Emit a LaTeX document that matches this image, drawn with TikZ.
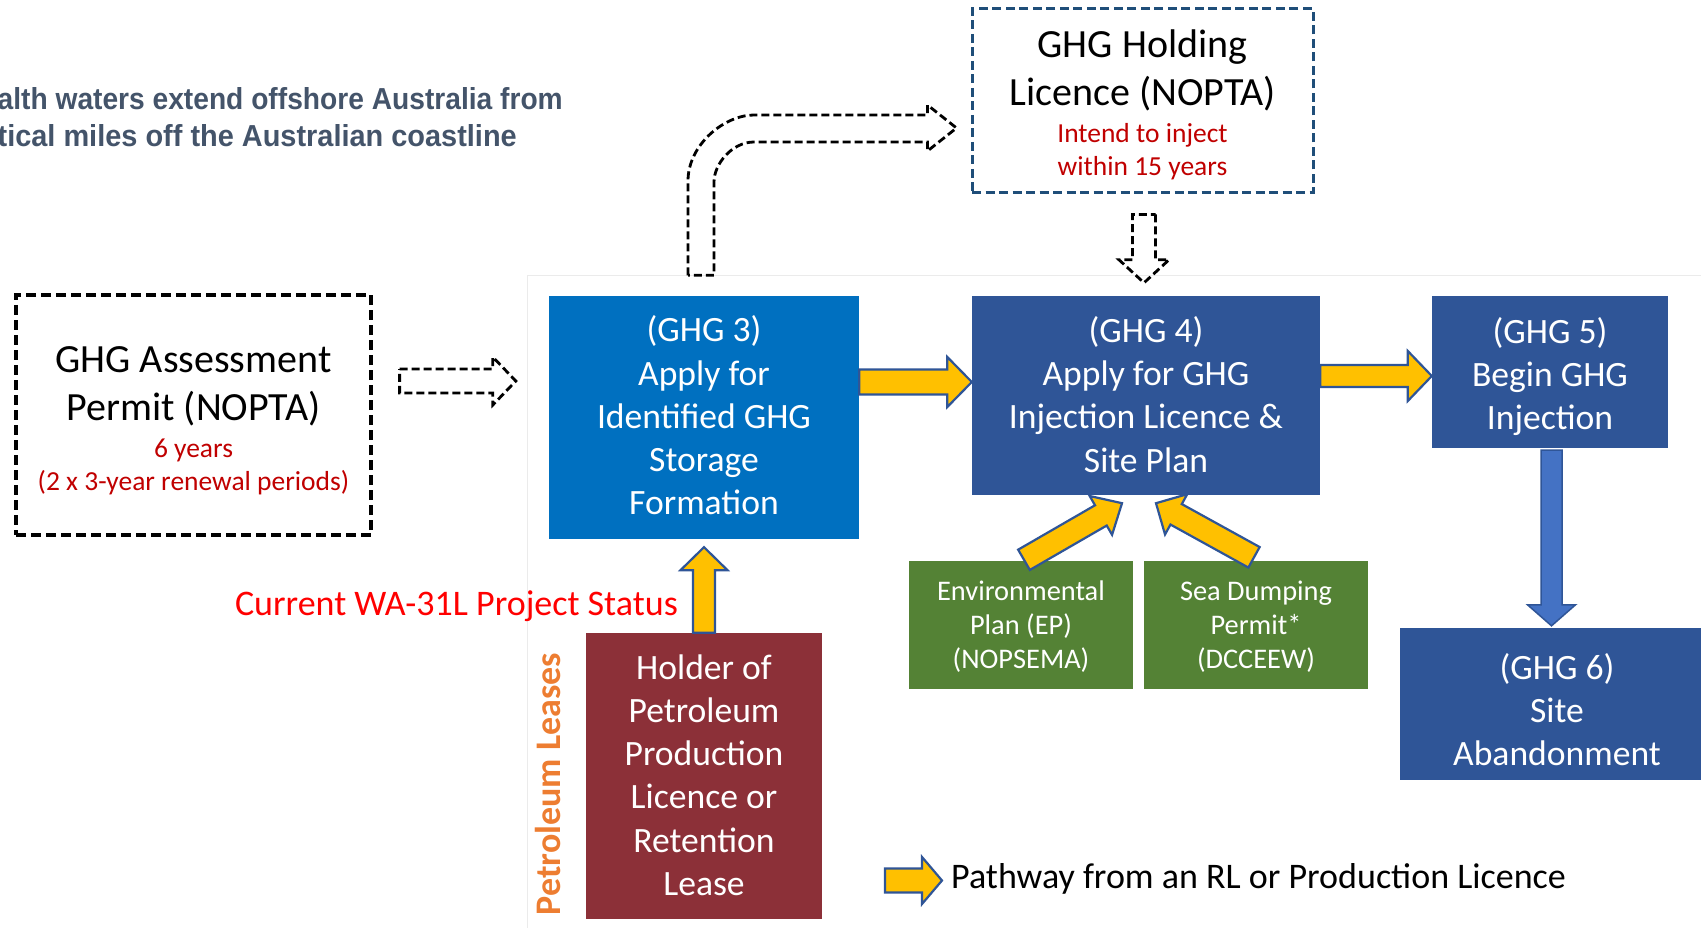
\documentclass[tikz,border=0pt]{standalone}
\usepackage{fontspec}
\usepackage{graphicx}
\setmainfont{Carlito}
\newfontfamily\headfont{Liberation Sans}
\usetikzlibrary{calc}

\definecolor{slatetext}{HTML}{44546A}
\definecolor{ghgblue}{HTML}{0070C0}
\definecolor{ghgnavy}{HTML}{2F5597}
\definecolor{envgreen}{HTML}{548235}
\definecolor{leasered}{HTML}{8C3038}
\definecolor{arrowyellow}{HTML}{FFC000}
\definecolor{arrowblue}{HTML}{4472C4}
\definecolor{arrowedge}{HTML}{2F5597}
\definecolor{notered}{HTML}{C00000}
\definecolor{statusred}{HTML}{FF0000}
\definecolor{leaseorange}{HTML}{ED7D31}
\definecolor{holdedge}{HTML}{1F4E79}
\definecolor{framegray}{HTML}{EBEBEB}

% block arrow: style, tail, tip, shaft half width, head half width, head length
\newcommand{\fatarrow}[6]{%
  \path ($(#3)!#6!(#2)$) coordinate (faBase);
  \draw[#1] ($(#2)!#4!90:(#3)$) -- ($(faBase)!#4!90:(#3)$) -- ($(faBase)!#5!90:(#3)$)
    -- (#3) -- ($(faBase)!#5!-90:(#3)$) -- ($(faBase)!#4!-90:(#3)$)
    -- ($(#2)!#4!-90:(#3)$) -- cycle;
}

\begin{document}
\begin{tikzpicture}[x=1pt,y=-1pt,
  stagebox/.style={inner sep=0pt},
  stagetext/.style={inner sep=0pt, align=center, text=white,
    font=\fontsize{35.6}{43.2}\selectfont},
  permitbox/.style={inner sep=0pt, fill=envgreen,
    minimum width=224pt, minimum height=128pt},
  permittext/.style={inner sep=0pt, align=center, text=white,
    font=\fontsize{28.4}{34.3}\selectfont},
  assessbox/.style={draw=black, line width=3.2pt, dash pattern=on 10pt off 5pt,
    inner sep=0pt, minimum width=355pt, minimum height=240pt},
  holdbox/.style={draw=holdedge, line width=3pt, dash pattern=on 9pt off 4.5pt,
    inner sep=0pt, minimum width=341pt, minimum height=184pt},
  titletext/.style={align=center, inner sep=0pt, font=\fontsize{40}{48}\selectfont},
  notetext/.style={align=center, inner sep=0pt, text=notered,
    font=\fontsize{27.5}{33}\selectfont},
  pathway/.style={fill=arrowyellow, draw=arrowedge, line width=2.2pt, line join=miter},
  descend/.style={fill=arrowblue, draw=arrowedge, line width=1.5pt, line join=miter},
  hollow/.style={draw=black, line width=2.8pt, dash pattern=on 8pt off 4pt, line join=miter},
  frameline/.style={draw=framegray, line width=1.2pt}
]
\useasboundingbox (0,0) rectangle (1701,928);
\clip (0,0) rectangle (1701,928);

% heading lines
\node[anchor=base east, inner sep=0pt, text=slatetext] (head1) at (563,110)
  {\resizebox{565pt}{22pt}{\headfont\bfseries alth waters extend offshore Australia from}};
\node[anchor=base east, inner sep=0pt, text=slatetext] (head2) at (517,147)
  {\resizebox{519pt}{22pt}{\headfont\bfseries tical miles off the Australian coastline}};

% light frame
\draw[frameline] (527.5,928) -- (527.5,275.5) -- (1701,275.5);

% permits and licences
\node[assessbox] (assess) at (193.5,415) {};
\node[titletext] (assesst) at ($(assess.center)+(0,-29)$) {GHG Assessment\\Permit (NOPTA)};
\node[notetext] (assessn) at ($(assess.center)+(0,51.5)$) {6 years\\(2 x 3-year renewal periods)};

\node[holdbox] (hold) at (1142.5,101) {};
\node[titletext] (holdt) at ($(hold.center)+(0,-31)$) {GHG Holding\\Licence (NOPTA)};
\node[notetext] (holdn) at ($(hold.center)+(0,50.5)$) {Intend to inject\\within 15 years};

% stages
\node[stagebox, fill=ghgblue, minimum width=310pt, minimum height=243pt] (ghg3) at (704,417.5) {};
\node[stagetext] (ghg3t) at ($(ghg3.center)+(0,-2)$)
  {(GHG 3)\\Apply for\\Identified GHG\\Storage\\Formation};
\node[stagebox, fill=ghgnavy, minimum width=348pt, minimum height=199pt] (ghg4) at (1146,395.5) {};
\node[stagetext] (ghg4t) at ($(ghg4.center)+(0,-1)$)
  {(GHG 4)\\Apply for GHG\\Injection Licence \&\\Site Plan};
\node[stagebox, fill=ghgnavy, minimum width=236pt, minimum height=152pt] (ghg5) at (1550,372) {};
\node[stagetext] (ghg5t) at ($(ghg5.center)+(0,4.5)$)
  {(GHG 5)\\Begin GHG\\Injection};
\node[stagebox, fill=ghgnavy, minimum width=314pt, minimum height=152pt] (ghg6) at (1557,704) {};
\node[stagetext] (ghg6t) at ($(ghg6.center)+(0,5.5)$)
  {(GHG 6)\\Site\\Abandonment};
\node[stagebox, fill=leasered, minimum width=236pt, minimum height=286pt] (lease) at (704,776) {};
\node[stagetext] (leaset) at ($(lease.center)+(0,-1)$)
  {Holder of\\Petroleum\\Production\\Licence or\\Retention\\Lease};
\node[permitbox] (env) at (1021,625) {};
\node[permittext] (envt) at ($(env.center)+(0,1.5)$) {Environmental\\Plan (EP)\\(NOPSEMA)};
\node[permitbox] (sea) at (1256,625) {};
\node[permittext] (seat) at ($(sea.center)+(0,1.5)$) {Sea Dumping\\Permit*\\(DCCEEW)};

% side labels
\node[anchor=base east, inner sep=0pt, text=statusred, font=\fontsize{36}{43}\selectfont]
  (status) at (678,615) {Current WA-31L Project Status};
\node[rotate=90, anchor=base, inner sep=0pt, text=leaseorange,
  font=\bfseries\fontsize{36}{43}\selectfont] (petro) at (560,784) {Petroleum Leases};

% optional routes (dashed)
\coordinate (d1s) at ($(assess.east)+(27,-34)$);
\coordinate (d1e) at ($(ghg3.west)+(-33,-36.5)$);
\fatarrow{hollow}{d1s}{d1e}{12pt}{24pt}{23pt}

\coordinate (b0) at ($(ghg3.north)+(-3,-20.5)$);
\coordinate (b1) at ($(hold.west)+(-14,27)$);
\draw[hollow] ($(b0)+(-13,0)$) -- ($(b0|-b1)+(-13,53)$)
  .. controls ($(b0|-b1)+(-13,16.5)$) and ($(b0|-b1)+(23.5,-13)$) .. ($(b0|-b1)+(53,-13)$)
  -- ($(b1)+(-29,-13)$) -- ($(b1)+(-29,-23)$) -- (b1) -- ($(b1)+(-29,23)$)
  -- ($(b1)+(-29,14)$) -- ($(b0|-b1)+(53,14)$)
  .. controls ($(b0|-b1)+(31,14)$) and ($(b0|-b1)+(13,36)$) .. ($(b0|-b1)+(13,54)$)
  -- ($(b0)+(13,0)$) -- cycle;

\coordinate (d2s) at ($(hold.south)+(1.5,20)$);
\coordinate (d2e) at ($(ghg4.north)+(-2,-13)$);
\fatarrow{hollow}{d2s}{d2e}{11.5pt}{25pt}{23pt}

% pathway arrows
\coordinate (p1s) at ($(ghg3.east)+(0,-35.5)$);
\coordinate (p1e) at (ghg4.west|-p1s);
\fatarrow{pathway}{p1s}{p1e}{12.5pt}{25pt}{24.5pt}

\coordinate (p2s) at ($(ghg4.east)+(0,-19.5)$);
\coordinate (p2e) at (ghg5.west|-p2s);
\fatarrow{pathway}{p2s}{p2e}{11pt}{25pt}{24pt}

\coordinate (p3s) at (lease.north);
\coordinate (p3e) at ($(ghg3.south)+(0,8)$);
\fatarrow{pathway}{p3s}{p3e}{11pt}{23.5pt}{23pt}

\coordinate (p4s) at ($(env.north)+(3,-1)$);
\coordinate (p4e) at ($(ghg4.south)+(-24,8)$);
\fatarrow{pathway}{p4s}{p4e}{11.7pt}{22.4pt}{24.4pt}

\coordinate (p5s) at ($(sea.north)+(-2,-3.5)$);
\coordinate (p5e) at ($(ghg4.south)+(10,8)$);
\fatarrow{pathway}{p5s}{p5e}{11.7pt}{23pt}{23pt}

\coordinate (q1s) at ($(ghg5.south)+(1.5,2)$);
\coordinate (q1e) at ($(ghg6.north)+(-5.5,-2)$);
\fatarrow{descend}{q1s}{q1e}{10.5pt}{24pt}{21pt}

% legend
\coordinate (leg1) at (885,880.5);
\coordinate (leg2) at (942,880.5);
\fatarrow{pathway}{leg1}{leg2}{12pt}{23.5pt}{20pt}
\node[anchor=base west, inner sep=0pt, font=\fontsize{36}{43}\selectfont] (legend) at (951,888)
  {Pathway from an RL or Production Licence};
\end{tikzpicture}
\end{document}
